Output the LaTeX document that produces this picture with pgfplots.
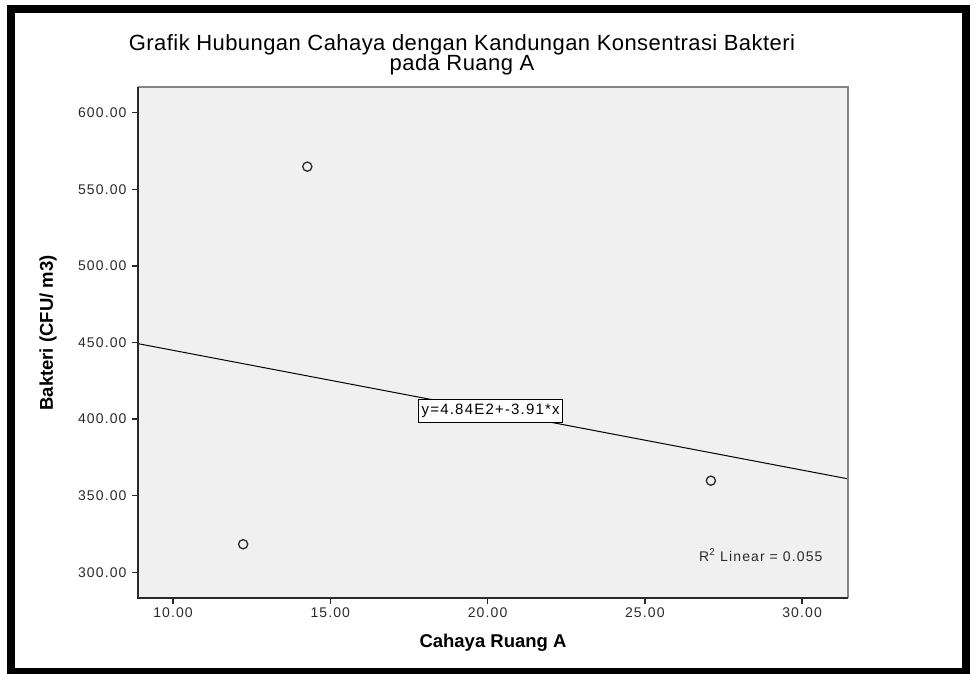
\documentclass[border=0pt]{standalone}
\usepackage{fontspec}
\setmainfont{Liberation Sans}
\newfontfamily\tickfont[LetterSpace=8]{Liberation Sans}
\newfontfamily\titlefont[LetterSpace=2]{Liberation Sans}
\usepackage{pgfplots}
\pgfplotsset{compat=1.18}
\definecolor{plotbg}{HTML}{F0F0F0}
\definecolor{axdark}{HTML}{2A2A2A}
\definecolor{axgray}{HTML}{858585}
\begin{document}
\begin{tikzpicture}[x=1pt,y=1pt]
\useasboundingbox (0,0) rectangle (976,673);
\begin{axis}[
  at={(138pt,75pt)}, anchor=south west,
  scale only axis, width=710pt, height=511pt,
  xmin=8.887, xmax=31.46, ymin=283.2, ymax=616.8,
  axis background/.style={fill=plotbg},
  axis line style={draw=none},
  clip=false,
  xtick={10,15,20,25,30},
  ytick={300,350,400,450,500,550,600},
  xtick pos=left, ytick pos=left,
  tick align=outside, major tick length=6pt,
  tick style={axdark, line width=1.5pt},
  /pgf/number format/assume math mode=true,
  xticklabel style={/pgf/number format/.cd, fixed, fixed zerofill, precision=2},
  yticklabel style={xshift=-2pt, /pgf/number format/.cd, fixed, fixed zerofill, precision=2},
  tick label style={font=\tickfont\fontsize{14}{16}\selectfont, text=axdark},
]
\addplot[black, line width=1pt] coordinates {(8.887,449.25) (31.46,360.99)};
\addplot[only marks, mark=o, mark size=4.6pt, mark options={draw=axdark, line width=1.3pt}]
  coordinates {(12.23,318.3) (14.27,564.8) (27.10,359.8)};
\draw[axgray, line width=2.2pt] (rel axis cs:0,1) -- (rel axis cs:1,1) -- (rel axis cs:1,0);
\draw[axdark, line width=1.5pt] (rel axis cs:0,1) -- (rel axis cs:0,0) -- (rel axis cs:1,0);
\node[draw=black, fill=white, line width=1pt, inner xsep=3pt, inner ysep=5pt, font=\tickfont\fontsize{15}{17}\selectfont]
  at (axis cs:20.1,405.4) {y=4.84E2+-3.91*x};
\node[anchor=east, font=\tickfont\fontsize{14}{16}\selectfont, text=axdark]
  at (rel axis cs:0.969,0.084) {R\textsuperscript{2} Linear = 0.055};
\end{axis}
\node[font=\titlefont\fontsize{22}{24}\selectfont, anchor=base] at (462,622) {Grafik Hubungan Cahaya dengan Kandungan Konsentrasi Bakteri};
\node[font=\titlefont\fontsize{22}{24}\selectfont, anchor=base] at (462,602) {pada Ruang A};
\node[font=\bfseries\fontsize{18.5}{22}\selectfont, anchor=base] at (493,26) {Cahaya Ruang A};
\node[font=\bfseries\fontsize{18.5}{22}\selectfont, rotate=90, anchor=center] at (48,340) {Bakteri (CFU/ m3)};
\draw[black, line width=8pt] (11,1) rectangle (966,663.5);
\end{tikzpicture}
\end{document}
